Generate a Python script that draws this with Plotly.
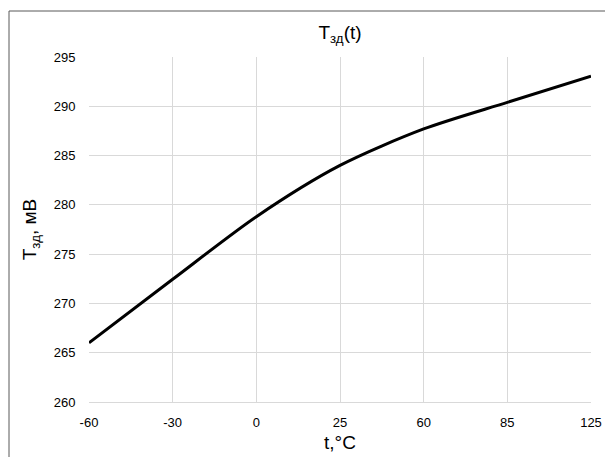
import plotly.graph_objects as go

categories = ["-60", "-30", "0", "25", "60", "85", "125"]
t_zd = [266.0, 272.45, 278.8, 284.0, 287.7, 290.4, 293.05]
y_ticks = [260, 265, 270, 275, 280, 285, 290, 295]

W, H = 605, 457
L, R, T, B = 89, 14, 57, 55

fig = go.Figure()
fig.add_trace(go.Scatter(
    x=categories, y=t_zd, mode="lines",
    line=dict(color="#000000", width=3, shape="spline", smoothing=0.8),
    showlegend=False, hoverinfo="skip",
))

font_family = "Liberation Sans, Arial, sans-serif"
fig.update_layout(
    width=W, height=H,
    margin=dict(l=L, r=R, t=T, b=B, autoexpand=False),
    paper_bgcolor="white", plot_bgcolor="white",
    font=dict(family=font_family, color="#000000"),
    title=dict(text="T<sub>зд</sub>(t)", x=(L + (W - R)) / 2 / W, xanchor="center",
               y=1 - 32 / H, yanchor="middle", font=dict(size=19, color="#000000")),
    xaxis=dict(type="category", categoryorder="array", categoryarray=categories,
               range=[0, len(categories) - 1],
               showgrid=True, gridcolor="#d9d9d9", gridwidth=1.3,
               showline=True, linecolor="#d9d9d9", linewidth=1.3,
               ticks="outside", ticklen=0, ticklabelstandoff=8,
               tickfont=dict(size=13, color="#000000"),
               title=dict(text="t,°C", font=dict(size=19, color="#000000"), standoff=6)),
    yaxis=dict(range=[260, 295], tickvals=y_ticks, ticktext=[str(v) for v in y_ticks],
               showgrid=True, gridcolor="#d9d9d9", gridwidth=1.3, zeroline=False,
               showline=False, ticks="outside", ticklen=0, ticklabelstandoff=10,
               tickfont=dict(size=13, color="#000000"),
               title=dict(text="T<sub>зд</sub>, мВ", font=dict(size=19, color="#000000"), standoff=12)),
)

# outer chart frame (left and top edges visible)
fig.add_shape(type="rect", xref="paper", yref="paper",
              x0=(9 - L) / (W - L - R), x1=(W + 20 - L) / (W - L - R),
              y0=-(H + 20 - (H - B)) / (H - T - B), y1=1 + (T - 11) / (H - T - B),
              line=dict(color="#595959", width=1), fillcolor="rgba(0,0,0,0)", layer="below")

fig.write_html("out.html", config={"displayModeBar": False},
               post_script="document.body.style.margin='0';document.body.style.overflow='hidden';")
